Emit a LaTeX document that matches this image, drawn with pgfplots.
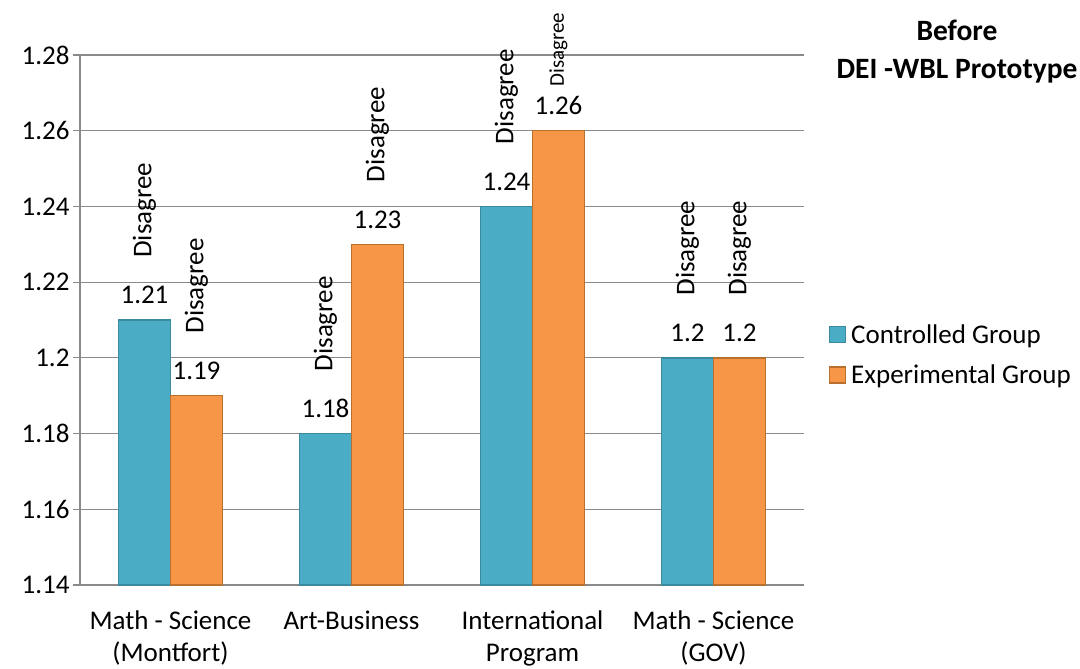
\documentclass[border=0pt]{standalone}
\usepackage{fontspec}
\setmainfont{Carlito}
\usepackage{graphicx}
\usepackage{pgfplots}
\pgfplotsset{compat=1.18}

\definecolor{ctrlfill}{HTML}{4BACC6}
\definecolor{ctrldraw}{HTML}{3A8BA1}
\definecolor{expfill}{HTML}{F79646}
\definecolor{expdraw}{HTML}{B9702F}
\definecolor{gridgray}{HTML}{8A8A8A}

% rotated "Disagree" stacked above the value of a bar
\newcommand{\stacklab}[3]{%
  \begin{tabular}{@{}c@{}}{#1\rotatebox{90}{Disagree}}\\[#2]#3\end{tabular}}

\begin{document}
\begin{tikzpicture}[font=\fontsize{27}{32}\selectfont]
\path[use as bounding box] (0pt,0pt) rectangle (1080pt,669pt);
\begin{axis}[
  at={(80pt,84pt)}, anchor=south west,
  scale only axis, width=724pt, height=530pt,
  font=\fontsize{27}{32}\selectfont,
  ybar=0pt, bar width=52pt,
  xmin=-0.5, xmax=3.5, ymin=1.14, ymax=1.28,
  ytick={1.14,1.16,1.18,1.2,1.22,1.24,1.26,1.28},
  yticklabels={1.14,1.16,1.18,1.2,1.22,1.24,1.26,1.28},
  ymajorgrids, grid style={gridgray, line width=1.1pt},
  axis x line*=bottom, axis y line*=left,
  axis line style={gridgray, line width=1.1pt, -},
  tick style={gridgray, line width=1.1pt},
  tick align=outside, major tick length=7pt,
  xtick={0,1,2,3},
  xticklabels={{Math - Science\\(Montfort)},{Art-Business},{International\\Program},{Math - Science\\(GOV)}},
  xticklabel style={align=center, text=black, yshift=-15pt},
  x tick style={draw=none},
  extra x ticks={-0.5,0.5,1.5,2.5,3.5},
  extra x tick labels={},
  extra x tick style={grid=none, tick style={gridgray, line width=1.1pt}, major tick length=9pt},
  yticklabel style={text=black},
  /pgf/number format/assume math mode=true,
  clip=false,
  visualization depends on={value \coordindex \as \myidx},
  nodes near coords={\ifnum\myidx=2\relax\stacklab{\fontsize{21}{24}\selectfont}{-4pt}{\pgfmathprintnumber{\pgfplotspointmeta}}\else\stacklab{}{14pt}{\pgfmathprintnumber{\pgfplotspointmeta}}\fi},
  every node near coord/.append style={anchor=south, inner sep=2pt, yshift=4pt, text=black},
  legend style={at={(1.03,0.434)}, anchor=west, draw=none, fill=none,
    row sep=16pt, font=\fontsize{27}{32}\selectfont,
    /tikz/every even column/.append style={column sep=0pt}},
  legend cell align=left,
  legend image code/.code={\draw[#1] (0pt,-8pt) rectangle (16pt,8pt);},
]
\addplot[fill=ctrlfill, draw=ctrldraw, line width=1.3pt,
  nodes near coords={\stacklab{}{14pt}{\pgfmathprintnumber{\pgfplotspointmeta}}}]
  coordinates {(0,1.21) (1,1.18) (2,1.24) (3,1.2)};
\addlegendentry{\hspace{3pt}Controlled Group}
\addplot[fill=expfill, draw=expdraw, line width=1.3pt]
  coordinates {(0,1.19) (1,1.23) (2,1.26) (3,1.2)};
\addlegendentry{\hspace{3pt}Experimental Group}
\end{axis}
\node[font=\bfseries\fontsize{29.5}{38}\selectfont, align=center] at (957pt,617pt)
  {Before\\DEI -WBL Prototype};
\end{tikzpicture}
\end{document}
